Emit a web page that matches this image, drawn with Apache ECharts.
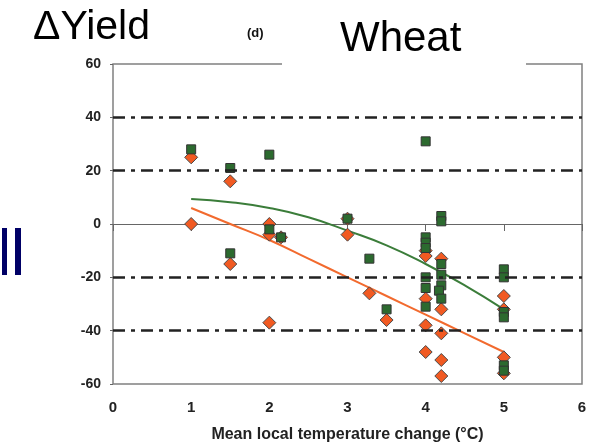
<!DOCTYPE html>
<html>
<head>
<meta charset="utf-8">
<script src="https://cdn.jsdelivr.net/npm/echarts@6/dist/echarts.min.js"></script>
<style>
html, body { margin: 0; padding: 0; background: #fff; }
#main { width: 603px; height: 446px; }
</style>
</head>
<body>
<div id="main"></div>
<script>
var chart = echarts.init(document.getElementById('main'));

// green squares [temperature change, yield change]
var greenPts = [
    [1, 28], [1.5, 21], [1.5, -11], [2, 26], [2, -2], [2.15, -5],
    [3, 2], [3.28, -13], [3.5, -32],
    [4, 31], [4, -5], [4, -7], [4, -9], [4, -20], [4, -24], [4, -31],
    [4.2, 3], [4.2, 1], [4.2, -15], [4.2, -19], [4.2, -23], [4.17, -25], [4.2, -28],
    [5, -17], [5, -20], [5, -33], [5, -35], [5, -53], [5, -55]
];
// orange diamonds
var orangePts = [
    [1, 25], [1, 0], [1.5, 16], [1.5, -15], [2, 0], [2, -4], [2, -37], [2.15, -5],
    [3, 2], [3, -4], [3.28, -26], [3.5, -36],
    [4, -10], [4, -12], [4, -28], [4, -38], [4, -48],
    [4.2, -13], [4.2, -32], [4.2, -41], [4.2, -51], [4.2, -57],
    [5, -27], [5, -32], [5, -50], [5, -56]
];
// fitted lines
var trendX = [1, 1.5, 2, 2.5, 3, 3.5, 4, 4.5, 5];
var greenTrend = [9.4, 8.2, 6, 2.5, -2.5, -8, -15, -23, -32];
var orangeTrend = [6, 0, -6, -13, -20, -27, -34, -41, -48];
var refLines = [40, 20, -20, -40];

function zip(xs, ys) {
    return xs.map(function (v, i) { return [v, ys[i]]; });
}

var font = 'Liberation Sans, Arial, Helvetica, sans-serif';

var option = {
    animation: false,
    backgroundColor: '#fff',
    grid: {
        left: 113, right: 21, top: 64, bottom: 62,
        outerBoundsMode: 'none',
        show: true, borderColor: '#808080', borderWidth: 1.5
    },
    xAxis: [{
        type: 'value', min: 0, max: 6, interval: 1, position: 'bottom',
        axisLine: { show: false, onZero: false },
        axisTick: { show: false },
        splitLine: { show: false },
        axisLabel: { fontSize: 15, fontWeight: 'bold', color: '#222', margin: 16, fontFamily: font },
        name: 'Mean local temperature change (°C)',
        nameLocation: 'middle', nameGap: 43,
        nameTextStyle: { fontSize: 16, fontWeight: 'bold', color: '#222', fontFamily: font }
    }, {
        type: 'value', min: 0, max: 6, interval: 1, position: 'top',
        axisLine: { show: true, onZero: true, lineStyle: { color: '#666', width: 1 } },
        axisTick: { show: true, inside: true, length: 7, lineStyle: { color: '#666' } },
        axisLabel: { show: false },
        splitLine: { show: false }
    }],
    yAxis: {
        type: 'value', min: -60, max: 60, interval: 20,
        axisLine: { show: false },
        axisTick: { show: true, length: 3, lineStyle: { color: '#666' } },
        splitLine: { show: false },
        axisLabel: { fontSize: 14, fontWeight: 'bold', color: '#222', margin: 12, fontFamily: font }
    },
    series: [{
        type: 'line', data: zip(trendX, greenTrend), smooth: true, showSymbol: false,
        lineStyle: { color: '#3b7d3a', width: 2 }, z: 2
    }, {
        type: 'line', data: zip(trendX, orangeTrend), smooth: true, showSymbol: false,
        lineStyle: { color: '#f26a2e', width: 2 }, z: 2
    }, {
        type: 'scatter', data: orangePts, symbol: 'diamond', symbolSize: 13,
        itemStyle: { color: '#f15a22', borderColor: '#4a4a4a', borderWidth: 1, opacity: 1 }, z: 3
    }, {
        type: 'scatter', data: greenPts, symbol: 'rect', symbolSize: 9,
        itemStyle: { color: '#2c6a2f', borderColor: '#333', borderWidth: 1, opacity: 1 }, z: 4
    }, {
        type: 'line', data: [], z: 10,
        markLine: {
            silent: true, symbol: ['none', 'none'], label: { show: false },
            lineStyle: { color: '#222', width: 2.5, type: [12, 6, 4, 6] },
            data: refLines.map(function (v) { return { yAxis: v }; })
        }
    }],
    graphic: [
        { type: 'rect', shape: { x: 282, y: 14, width: 244, height: 62 }, style: { fill: '#fff' }, z: 100 },
        { type: 'text', z: 101, style: { x: 33, y: 28, text: 'ΔYield', font: '41px ' + font, fill: '#000', verticalAlign: 'middle' } },
        { type: 'text', z: 101, style: { x: 247, y: 33, text: '(d)', font: 'bold 13px ' + font, fill: '#111', verticalAlign: 'middle' } },
        { type: 'text', z: 101, style: { x: 340, y: 39, text: 'Wheat', font: '42px ' + font, fill: '#000', verticalAlign: 'middle' } },
        { type: 'rect', shape: { x: 2, y: 228, width: 5, height: 47 }, style: { fill: '#000066' }, z: 100 },
        { type: 'rect', shape: { x: 15, y: 228, width: 6, height: 47 }, style: { fill: '#000066' }, z: 100 }
    ]
};

chart.setOption(option);
</script>
</body>
</html>
